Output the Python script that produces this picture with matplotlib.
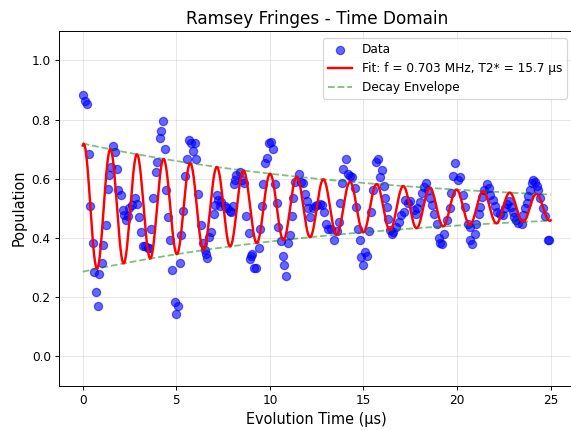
import numpy as np
import matplotlib
matplotlib.use('Agg')
import matplotlib.pyplot as plt

t_data = [0.00, 0.11, 0.21, 0.34, 0.39, 0.53, 0.60, 0.71, 0.82, 0.89, 1.01, 1.10,
          1.25, 1.33, 1.42, 1.49, 1.60, 1.71, 1.81, 1.90, 2.03, 2.14, 2.22, 2.30,
          2.40, 2.49, 2.62, 2.79, 2.88, 3.01, 3.10, 3.20, 3.33, 3.47, 3.56, 3.67,
          3.77, 3.90, 3.99, 4.11, 4.20, 4.29, 4.40, 4.47, 4.56, 4.64, 4.77, 4.91,
          5.00, 5.09, 5.18, 5.27, 5.37, 5.48, 5.59, 5.68, 5.77, 5.89, 5.98, 6.07,
          6.16, 6.30, 6.42, 6.51, 6.60, 6.65, 6.74, 6.87, 7.01, 7.08, 7.17, 7.22,
          7.31, 7.40, 7.58, 7.72, 7.85, 7.94, 8.02, 8.06, 8.11, 8.20, 8.38, 8.51,
          8.61, 8.72, 8.86, 8.93, 8.99, 9.04, 9.16, 9.25, 9.40, 9.47, 9.57, 9.64,
          9.75, 9.84, 9.96, 10.07, 10.18, 10.28, 10.36, 10.44, 10.57, 10.68, 10.77, 10.85,
          10.98, 11.07, 11.17, 11.26, 11.35, 11.57, 11.65, 11.78, 11.87, 11.96, 12.06, 12.15,
          12.28, 12.42, 12.54, 12.69, 12.78, 12.90, 13.02, 13.13, 13.27, 13.40, 13.58, 13.70,
          13.75, 13.84, 13.93, 14.06, 14.16, 14.29, 14.41, 14.52, 14.61, 14.70, 14.79, 14.88,
          14.95, 15.09, 15.18, 15.30, 15.41, 15.53, 15.66, 15.80, 15.89, 15.98, 16.07, 16.16,
          16.25, 16.33, 16.42, 16.51, 16.60, 16.73, 16.87, 17.01, 17.14, 17.22, 17.40, 17.51,
          17.69, 17.78, 17.87, 18.01, 18.13, 18.22, 18.36, 18.43, 18.54, 18.67, 18.79, 18.90,
          19.02, 19.11, 19.20, 19.32, 19.47, 19.61, 19.68, 19.79, 19.91, 20.04, 20.18, 20.32,
          20.44, 20.57, 20.68, 20.71, 20.82, 20.93, 21.03, 21.16, 21.25, 21.33, 21.46, 21.60,
          21.69, 21.78, 21.92, 22.03, 22.12, 22.30, 22.44, 22.56, 22.69, 22.79, 22.86, 22.97,
          23.04, 23.15, 23.27, 23.45, 23.54, 23.63, 23.72, 23.81, 23.90, 23.98, 24.07, 24.16,
          24.25, 24.34, 24.43, 24.57, 24.70, 24.88, 24.93]
p_data = [0.882, 0.863, 0.854, 0.683, 0.509, 0.383, 0.284, 0.216, 0.169, 0.277, 0.313, 0.375,
          0.444, 0.564, 0.611, 0.638, 0.712, 0.691, 0.631, 0.563, 0.545, 0.493, 0.476, 0.460,
          0.473, 0.499, 0.510, 0.533, 0.514, 0.471, 0.419, 0.373, 0.373, 0.367, 0.364, 0.431,
          0.533, 0.623, 0.657, 0.738, 0.762, 0.795, 0.699, 0.561, 0.469, 0.394, 0.290, 0.183,
          0.142, 0.168, 0.314, 0.408, 0.491, 0.608, 0.668, 0.730, 0.721, 0.694, 0.719, 0.668,
          0.547, 0.443, 0.381, 0.358, 0.345, 0.332, 0.402, 0.420, 0.482, 0.510, 0.544, 0.527,
          0.507, 0.521, 0.507, 0.499, 0.491, 0.488, 0.507, 0.583, 0.597, 0.612, 0.623, 0.595,
          0.586, 0.473, 0.417, 0.327, 0.338, 0.345, 0.296, 0.296, 0.364, 0.431, 0.507, 0.581,
          0.653, 0.671, 0.721, 0.724, 0.702, 0.581, 0.516, 0.437, 0.390, 0.338, 0.307, 0.270,
          0.381, 0.409, 0.473, 0.533, 0.589, 0.615, 0.589, 0.586, 0.547, 0.525, 0.499, 0.471,
          0.499, 0.507, 0.510, 0.514, 0.510, 0.488, 0.448, 0.428, 0.428, 0.392, 0.423, 0.454,
          0.516, 0.584, 0.631, 0.665, 0.615, 0.608, 0.604, 0.567, 0.505, 0.428, 0.392, 0.336,
          0.307, 0.353, 0.338, 0.423, 0.488, 0.563, 0.657, 0.668, 0.606, 0.629, 0.575, 0.533,
          0.505, 0.462, 0.426, 0.412, 0.420, 0.437, 0.454, 0.476, 0.488, 0.527, 0.516, 0.525,
          0.493, 0.482, 0.499, 0.521, 0.550, 0.572, 0.584, 0.561, 0.533, 0.510, 0.479, 0.448,
          0.400, 0.381, 0.379, 0.414, 0.460, 0.499, 0.550, 0.608, 0.653, 0.595, 0.606, 0.544,
          0.505, 0.448, 0.437, 0.392, 0.379, 0.414, 0.446, 0.482, 0.505, 0.539, 0.563, 0.581,
          0.567, 0.544, 0.529, 0.507, 0.488, 0.482, 0.476, 0.499, 0.514, 0.525, 0.505, 0.488,
          0.469, 0.460, 0.450, 0.446, 0.476, 0.499, 0.518, 0.541, 0.561, 0.584, 0.595, 0.589,
          0.575, 0.561, 0.536, 0.502, 0.473, 0.394, 0.392]

# fit parameters
fit_freq = 0.703     # MHz
fit_T2 = 15.7        # us
fit_amp = 0.217
fit_offset = 0.502
fit_phase = -0.25    # rad

t_fit = np.linspace(0, 25, 1000)
envelope = fit_amp * np.exp(-t_fit / fit_T2)
p_fit = fit_offset + envelope * np.cos(2 * np.pi * fit_freq * t_fit + fit_phase)

DPI = 87
fig = plt.figure(figsize=(571 / DPI, 430 / DPI), dpi=DPI)
ax = fig.add_axes([59.3 / 571, 44.5 / 430, 514.8 / 571, 354.6 / 430])

ax.scatter(t_data, p_data, color='blue', alpha=0.6, s=46, label='Data', zorder=2)
ax.plot(t_fit, p_fit, 'r-', linewidth=2,
        label=f'Fit: f = {fit_freq:.3f} MHz, T2* = {fit_T2:.1f} μs', zorder=3)
ax.plot(t_fit, fit_offset + envelope, 'g--', alpha=0.5, linewidth=1.5,
        label='Decay Envelope')
ax.plot(t_fit, fit_offset - envelope, 'g--', alpha=0.5, linewidth=1.5)

ax.set_xlim(-1.25, 26.25)
ax.set_ylim(-0.1, 1.1)
ax.set_xlabel('Evolution Time (μs)', fontsize=12)
ax.set_ylabel('Population', fontsize=12)
ax.set_title('Ramsey Fringes - Time Domain', fontsize=14)
ax.legend(loc='upper right', fontsize=10, labelspacing=0.5, borderaxespad=0.6)
ax.grid(True, alpha=0.3)

fig.savefig('out.png', dpi=DPI)
